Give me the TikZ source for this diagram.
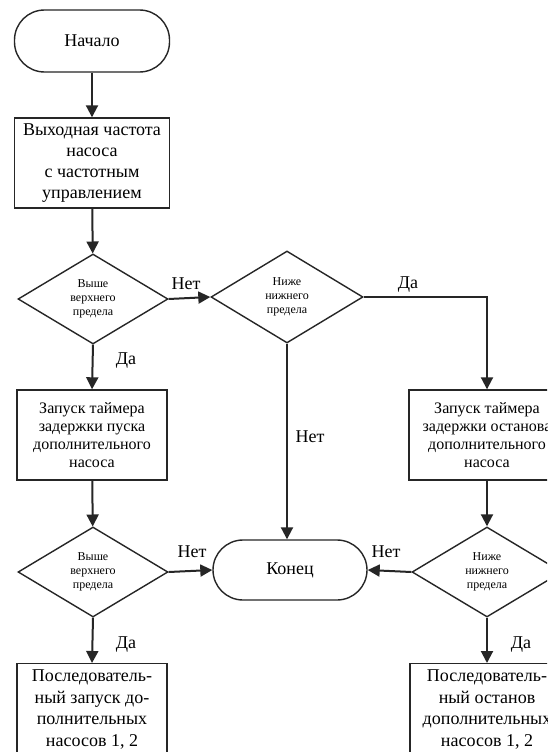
\documentclass[tikz,border=0pt]{standalone}
\usepackage{fontspec}
\setmainfont{Liberation Serif}
\usetikzlibrary{shapes.geometric,arrows.meta}
\tikzset{
  every picture/.style={x=1pt,y=-1pt},
  base/.style={draw=black!85, line width=1.4pt, align=center, inner sep=1pt, font=\fontsize{16}{18}\selectfont},
  term/.style={base, rectangle, rounded corners=30pt, minimum width=155pt, minimum height=62pt, font=\fontsize{18}{20}\selectfont},
  proc/.style={base, rectangle, minimum height=90pt},
  bigproc/.style={proc, font=\fontsize{18}{21}\selectfont},
  dec/.style={base, diamond, aspect=1.67, minimum width=150pt, minimum height=90pt, inner sep=0pt, font=\fontsize{12}{14}\selectfont},
  conn/.style={line width=2pt, draw=black!85, -{Triangle[length=12pt,width=12pt]}},
  lbl/.style={font=\fontsize{18}{20}\selectfont, inner sep=0pt}
}
\begin{document}
\begin{tikzpicture}
\useasboundingbox (0,0) rectangle (547,752);
\clip (0,0) rectangle (547,752);
\fill[white] (0,0) rectangle (547,752);

\node[term] (start) at (92,41) {Начало};
\node[bigproc, minimum width=155pt] (box1) at (92,163) {Выходная частота\\насоса\\с частотным\\управлением};
\node[dec] (d1) at (93,299) {Выше\\верхнего\\предела};
\node[dec, minimum width=152pt, minimum height=92pt] (d2) at (287,297) {Ниже\\нижнего\\предела};
\node[proc, minimum width=150pt] (box2) at (92,435) {Запуск таймера\\задержки пуска\\дополнительного\\насоса};
\node[proc, minimum width=156pt] (box3) at (487,435) {Запуск таймера\\задержки останова\\дополнительного\\насоса};
\node[term, minimum width=154pt, minimum height=60pt] (end) at (290,570) {Конец};
\node[dec] (d3) at (93,572) {Выше\\верхнего\\предела};
\node[dec] (d4) at (487,572) {Ниже\\нижнего\\предела};
\node[proc, minimum width=150pt, minimum height=92pt, anchor=north, font=\fontsize{18}{21.5}\selectfont] (box4) at (92,663) {Последователь-\\ный запуск до-\\полнительных\\насосов 1, 2};
\node[proc, minimum width=154pt, minimum height=92pt, anchor=north, font=\fontsize{18}{21.5}\selectfont] (box5) at (487,663) {Последователь-\\ный останов\\дополнительных\\насосов 1, 2};

\draw[conn] (start) -- (box1);
\draw[conn] (box1) -- (d1);
\draw[conn] (d1.east) -- (d2.west);
\draw[conn] (d1.south) -- (box2.north);
\draw[conn] (d2.east) -| (box3.north);
\draw[conn] (d2.south) -- (d2.south |- end.north);
\draw[conn] (box2) -- (d3);
\draw[conn] (box3) -- (d4);
\draw[conn] (d3.east) -- (end.west);
\draw[conn] (d4.west) -- (end.east);
\draw[conn] (d3.south) -- (box4.north);
\draw[conn] (d4.south) -- (box5.north);

\node[lbl] (l1) at (186,284) {Нет};
\node[lbl] (l2) at (126,361) {Да};
\node[lbl] (l3) at (408,285) {Да};
\node[lbl] (l4) at (310,437) {Нет};
\node[lbl] (l5) at (192,552) {Нет};
\node[lbl] (l6) at (386,552) {Нет};
\node[lbl] (l7) at (126,645) {Да};
\node[lbl] (l8) at (521,645) {Да};
\end{tikzpicture}
\end{document}
